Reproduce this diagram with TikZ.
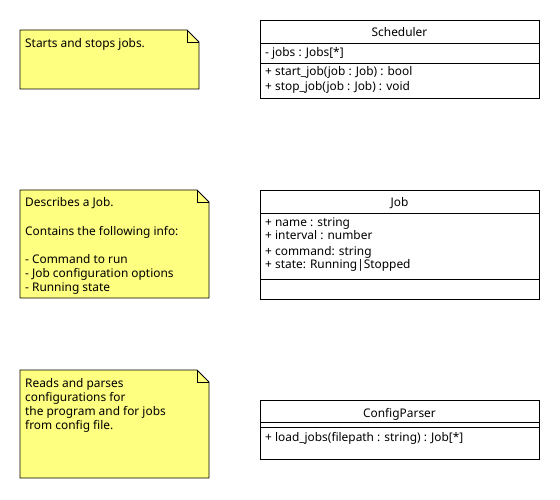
\documentclass[tikz,border=0pt]{standalone}
\usepackage{fontspec}
\setmainfont{Noto Sans}
\definecolor{notefill}{HTML}{FEFE80}
\begin{document}
\begin{tikzpicture}[x=1pt,y=-1pt,
  txt/.style={anchor=base west,inner sep=0pt,font=\fontsize{11.9}{14}\selectfont},
  ttl/.style={anchor=base,inner sep=0pt,font=\fontsize{11.9}{14}\selectfont},
  box/.style={draw=black,line width=0.8pt,fill=white},
  notebox/.style={draw=black,line width=0.8pt,fill=notefill}]
\useasboundingbox (0,0) rectangle (560,500);
% notes
\newcommand{\mynote}[5]{% x1,y1,x2,y2,name
  \draw[notebox] (#1,#2) -- (#3-12,#2) -- (#3,#2+12) -- (#3,#4) -- (#1,#4) -- cycle;
  \draw[line width=0.8pt] (#3-12,#2) -- (#3-12,#2+12) -- (#3,#2+12);
  \coordinate (#5) at (#1,#2);
}
\mynote{20}{30}{199}{89}{n1}
\mynote{20}{190}{209}{298}{n2}
\mynote{20}{370}{209}{478}{n3}
\node[txt] (n1t) at (25,48) {Starts and stops jobs.};
\node[txt] (n2a) at (25,207) {Describes a Job.};
\node[txt] (n2b) at (25,235) {Contains the following info:};
\node[txt] (n2c) at (25,263) {- Command to run};
\node[txt] (n2d) at (25,277) {- Job configuration options};
\node[txt] (n2e) at (25,291) {- Running state};
\node[txt] (n3a) at (25,387) {Reads and parses};
\node[txt] (n3b) at (25,401) {configurations for};
\node[txt] (n3c) at (25,415) {the program and for jobs};
\node[txt] (n3d) at (25,429) {from config file.};
% Scheduler
\draw[box] (260,20) rectangle (539,98);
\draw[line width=0.8pt] (260,43) -- (539,43) (260,63) -- (539,63);
\node[ttl] (s) at (399.5,37) {Scheduler};
\node[txt] (s1) at (265,57) {- jobs : Jobs[*]};
\node[txt] (s2) at (265,76) {+ start\_job(job : Job) : bool};
\node[txt] (s3) at (265,91) {+ stop\_job(job : Job) : void};
% Job
\draw[box] (260,190) rectangle (539,299);
\draw[line width=0.8pt] (260,213) -- (539,213) (260,279) -- (539,279);
\node[ttl] (j) at (399.5,207) {Job};
\node[txt] (j1) at (265,226) {+ name : string};
\node[txt] (j2) at (265,240) {+ interval : number};
\node[txt] (j3) at (265,255) {+ command: string};
\node[txt] (j4) at (265,269) {+ state: Running|Stopped};
% ConfigParser
\draw[box] (260,400) rectangle (539,459);
\draw[line width=0.8pt] (260,422) -- (539,422) (260,427) -- (539,427);
\node[ttl] (c) at (399.5,417) {ConfigParser};
\node[txt] (c1) at (265,441) {+ load\_jobs(filepath : string) : Job[*]};
\end{tikzpicture}
\end{document}
